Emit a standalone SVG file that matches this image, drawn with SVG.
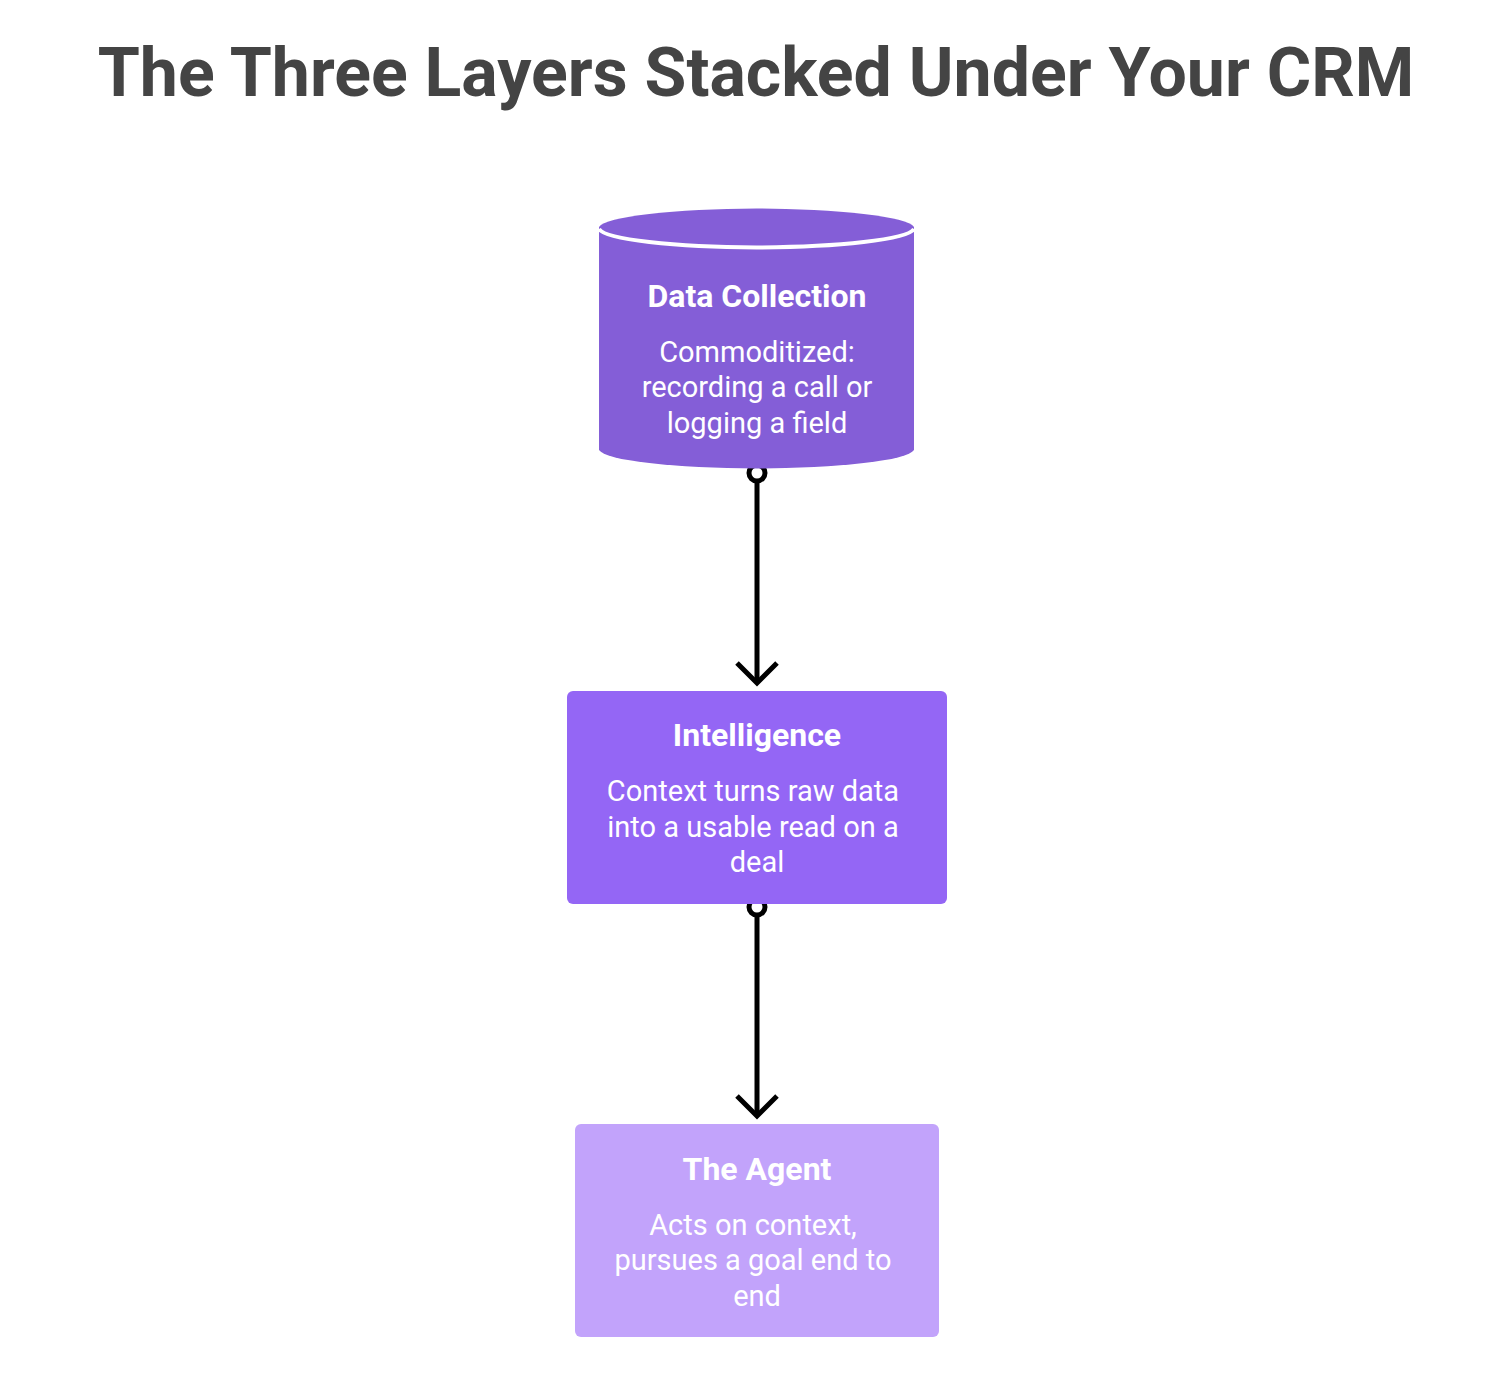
<svg xmlns="http://www.w3.org/2000/svg" width="1511" height="1384" viewBox="0 0 1511 1384">
<style>
.t{font-family:Roboto,"Liberation Sans",sans-serif;fill:#fff;text-anchor:middle}
.h{font-size:32px;font-weight:bold}
.b{font-size:29px}
.c{stroke:#000;stroke-width:5;fill:none}
</style>
<rect width="1511" height="1384" fill="#fff"/>
<text x="756" y="96" font-family="Roboto,'Liberation Sans',sans-serif" font-size="68" font-weight="bold" fill="#444" text-anchor="middle">The Three Layers Stacked Under Your CRM</text>
<g id="connectors">
<line class="c" x1="757" y1="481" x2="757" y2="681"/>
<path class="c" d="M737 663 L757 683 L777 663"/>
<circle cx="757" cy="473" r="8" fill="#fff" stroke="#000" stroke-width="5"/>
<line class="c" x1="757" y1="915" x2="757" y2="1114"/>
<path class="c" d="M737 1096 L757 1116 L777 1096"/>
<circle cx="757" cy="907" r="8" fill="#fff" stroke="#000" stroke-width="5"/>
</g>
<g id="data-collection">
<path d="M599 227 A158 20 0 0 1 914 227 L914 450 A158 20 0 0 1 599 450 Z" fill="#845ed7"/>
<path d="M599 229 A158 20 0 0 0 914 229" fill="none" stroke="#fff" stroke-width="4"/>
<text class="t h" x="757" y="307">Data Collection</text>
<text class="t b" x="757" y="362">Commoditized:</text>
<text class="t b" x="757" y="397">recording a call or</text>
<text class="t b" x="757" y="433">logging a field</text>
</g>
<g id="intelligence">
<rect x="567" y="691" width="380" height="213" rx="6" fill="#9466f5"/>
<text class="t h" x="757" y="746">Intelligence</text>
<text class="t b" x="753" y="801">Context turns raw data</text>
<text class="t b" x="753" y="837">into a usable read on a</text>
<text class="t b" x="757" y="872">deal</text>
</g>
<g id="agent">
<rect x="575" y="1124" width="364" height="213" rx="6" fill="#c2a3fb"/>
<text class="t h" x="757" y="1180">The Agent</text>
<text class="t b" x="753" y="1235">Acts on context,</text>
<text class="t b" x="753" y="1270">pursues a goal end to</text>
<text class="t b" x="757" y="1306">end</text>
</g>
</svg>
